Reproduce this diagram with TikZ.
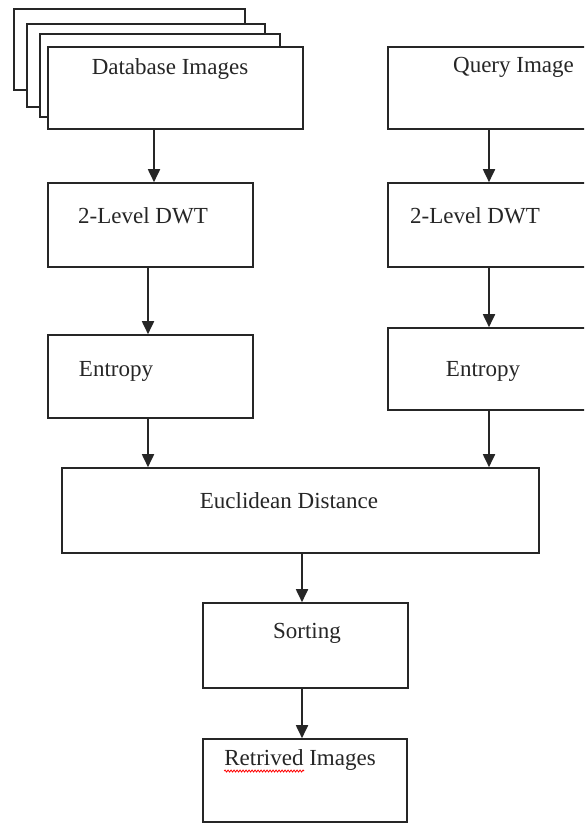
\documentclass[tikz,border=0pt]{standalone}
\usepackage{fontspec}
\setmainfont{Liberation Serif}
\usetikzlibrary{arrows.meta,decorations.pathmorphing}
\tikzset{
  box/.style={draw=black!85, line width=1.6pt, fill=white, inner sep=0pt},
  lbl/.style={font=\fontsize{23}{26}\selectfont, inner sep=0pt, text=black!85, anchor=base},
  arr/.style={draw=black!85, line width=1.8pt, -{Triangle[width=12pt,length=13pt]}}
}
\begin{document}
\begin{tikzpicture}[x=1pt,y=-1pt]
\clip (0,0) rectangle (584,826);
\fill[white] (0,0) rectangle (584,826);
% stacked database images
\node[box, minimum width=231pt, minimum height=81pt] (s1) at (129.5,49.5) {};
\node[box, minimum width=238pt, minimum height=83pt] (s2) at (146,65.5) {};
\node[box, minimum width=240pt, minimum height=83pt] (s3) at (160,75.5) {};
\node[box, minimum width=255pt, minimum height=82pt] (db) at (175.5,88) {};
\node[lbl] (tdb) at (170,75) {Database Images};
% query
\node[box, minimum width=212pt, minimum height=82pt] (q) at (494,88) {};
\node[lbl] (tq) at (513.5,73) {Query Image};
% DWT
\node[box, minimum width=205pt, minimum height=84pt] (dwt1) at (150.5,225) {};
\node[lbl] (tdwt1) at (143,223) {2-Level DWT};
\node[box, minimum width=212pt, minimum height=84pt] (dwt2) at (494,225) {};
\node[lbl] (tdwt2) at (475,223) {2-Level DWT};
% Entropy
\node[box, minimum width=205pt, minimum height=83pt] (ent1) at (150.5,376.5) {};
\node[lbl] (tent1) at (116,376) {Entropy};
\node[box, minimum width=212pt, minimum height=82pt] (ent2) at (494,369) {};
\node[lbl] (tent2) at (483,376) {Entropy};
% Euclidean
\node[box, minimum width=477pt, minimum height=85pt] (euc) at (300.5,510.5) {};
\node[lbl] (teuc) at (289,508) {Euclidean Distance};
% Sorting
\node[box, minimum width=205pt, minimum height=85pt] (sort) at (305.5,645.5) {};
\node[lbl] (tsort) at (307,638) {Sorting};
% Retrived
\node[box, minimum width=204pt, minimum height=83pt] (ret) at (305,780.5) {};
\node[lbl] (tret) at (300,765) {Retrived Images};
\draw[red, line width=0.8pt, decorate, decoration={snake, amplitude=1pt, segment length=3pt}]
  ([yshift=-6pt]tret.base west) -- ++(80,0);
% arrows
\coordinate (c1) at (154,0);
\coordinate (c2) at (489,0);
\coordinate (c3) at (148,0);
\coordinate (c4) at (302,0);
\draw[arr] (c1 |- db.south) -- (c1 |- dwt1.north);
\draw[arr] (c2 |- q.south) -- (c2 |- dwt2.north);
\draw[arr] (c3 |- dwt1.south) -- (c3 |- ent1.north);
\draw[arr] (c2 |- dwt2.south) -- (c2 |- ent2.north);
\draw[arr] (c3 |- ent1.south) -- (c3 |- euc.north);
\draw[arr] (c2 |- ent2.south) -- (c2 |- euc.north);
\draw[arr] (c4 |- euc.south) -- (c4 |- sort.north);
\draw[arr] (c4 |- sort.south) -- (c4 |- ret.north);
\end{tikzpicture}
\end{document}
